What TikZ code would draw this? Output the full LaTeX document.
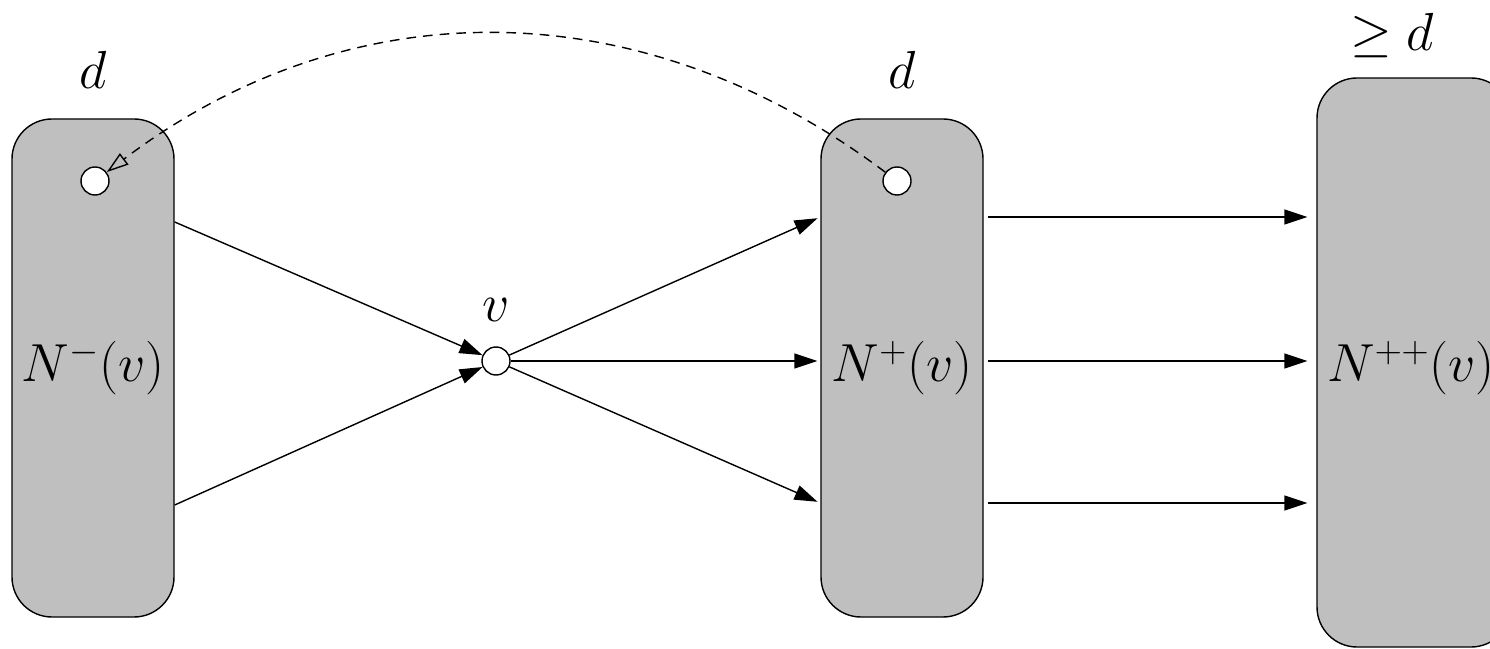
\RequirePackage{fix-cm}
\documentclass[tikz,border=0pt]{standalone}
\usepackage{amsmath}
\usepackage{tikz}
\usetikzlibrary{arrows.meta,calc,positioning}
\definecolor{setfill}{HTML}{BFBFBF}

\begin{document}
\begin{tikzpicture}[
    every node/.style={font=\fontsize{30.5}{36}\selectfont},
    setbox/.style={draw, fill=setfill, rounded corners=0.8cm, line width=0.8pt, inner sep=0pt, minimum width=3.24cm, minimum height=9.96cm},
    vertex/.style={circle, draw, fill=white, line width=0.8pt, minimum size=0.56cm, inner sep=0pt},
    tag/.style={inner sep=0pt},
    arrow/.style={-{Triangle[length=0.46cm, width=0.3cm]}, line width=0.8pt}
]

% Frame
\useasboundingbox (0,0) rectangle (29.8,12.96);

% Neighbourhoods
\node[setbox] (nminus) at (1.86,5.6) {$N^-(v)$};
\node[setbox] (nplus) at (18.04,5.6) {$N^+(v)$};
\node[setbox, minimum width=3.88cm, minimum height=11.38cm] (nplusplus) at (28.28,5.71) {};
\node at (28.22,5.6) (npptext) {$N^{++}(v)$};

% Sizes
\node[tag, above=0.58cm of nminus] (dminus) {$d$};
\node[tag, above=0.58cm of nplus] (dplus) {$d$};
\node[tag, above=0.38cm of nplusplus, xshift=-0.44cm] (dplusplus) {$\geq d$};

% Vertices
\node[vertex] (v) at (9.92,5.74) {};
\node[tag, above=0.48cm of v] (vlabel) {$v$};
\node[vertex] (mdot) at (1.9,9.34) {};
\node[vertex] (pdot) at (17.94,9.34) {};

% In-arcs
\foreach \dy in {2.92,-2.74} {
  \draw[arrow] ([yshift=\dy cm]nminus.east) -- (v);
}

% Out-arcs and second out-neighbourhood
\foreach \dy in {3.02,0.14,-2.7} {
  \draw[arrow, shorten >=0.06cm] (v) -- ([yshift=\dy cm]nplus.west);
  \draw[arrow, shorten <=0.08cm, shorten >=0.18cm] ([yshift=\dy cm]nplus.east) -- ([yshift=\dy cm]nplus.east -| nplusplus.west);
}

% Back arc
\draw[dash pattern=on 5.5pt off 4pt, line width=0.8pt, -{Triangle[open, length=0.44cm, width=0.28cm]}]
  (pdot) .. controls (12.8,13.2) and (7.0,13.2) .. (mdot);

\end{tikzpicture}
\end{document}
